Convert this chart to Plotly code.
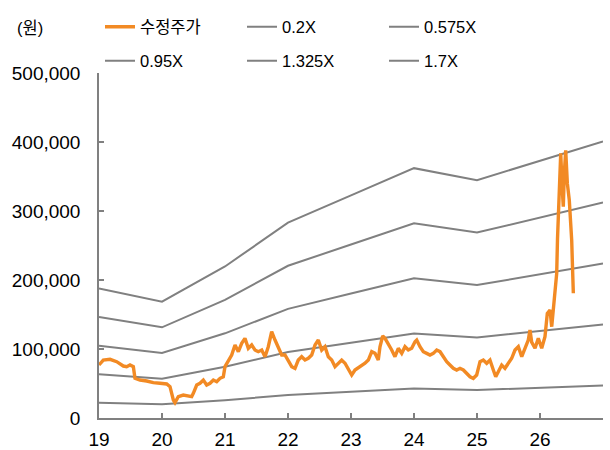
import plotly.graph_objects as go

# Band anchors (year-start points) and per-share book value
band_years = [2019, 2020, 2021, 2022, 2023, 2024, 2025, 2026, 2027]
bps = [110400, 99200, 129200, 166500, 189800, 213000, 202800, 219500, 235800]
multiples = [0.2, 0.575, 0.95, 1.325, 1.7]
band_names = ["0.2X", "0.575X", "0.95X", "1.325X", "1.7X"]

# Adjusted share price (decimal year, KRW)
price_x = [
    2019.000, 2019.068, 2019.175, 2019.281, 2019.386, 2019.439, 2019.492, 2019.545, 2019.571,
    2019.651, 2019.757, 2019.862, 2019.968, 2020.075, 2020.127, 2020.180, 2020.206, 2020.259,
    2020.338, 2020.418, 2020.471, 2020.497, 2020.551, 2020.603, 2020.656, 2020.709, 2020.762,
    2020.815, 2020.868, 2020.921, 2020.973, 2021.000, 2021.053, 2021.106, 2021.159, 2021.212,
    2021.265, 2021.317, 2021.370, 2021.424, 2021.476, 2021.529, 2021.583, 2021.635, 2021.687,
    2021.741, 2021.794, 2021.846, 2021.900, 2021.952, 2022.005, 2022.059, 2022.111, 2022.163,
    2022.217, 2022.270, 2022.322, 2022.376, 2022.429, 2022.481, 2022.535, 2022.587, 2022.640,
    2022.694, 2022.746, 2022.798, 2022.852, 2022.905, 2022.957, 2023.011, 2023.063, 2023.143,
    2023.222, 2023.275, 2023.329, 2023.381, 2023.433, 2023.460, 2023.503, 2023.540, 2023.592,
    2023.646, 2023.698, 2023.751, 2023.805, 2023.857, 2023.910, 2023.963, 2024.016, 2024.043,
    2024.095, 2024.148, 2024.202, 2024.254, 2024.306, 2024.360, 2024.413, 2024.465, 2024.519,
    2024.571, 2024.624, 2024.678, 2024.730, 2024.783, 2024.837, 2024.889, 2024.941, 2024.995,
    2025.048, 2025.100, 2025.154, 2025.206, 2025.259, 2025.297, 2025.338, 2025.392, 2025.444,
    2025.497, 2025.551, 2025.603, 2025.656, 2025.710, 2025.762, 2025.814, 2025.841, 2025.868,
    2025.921, 2025.973, 2026.027, 2026.079, 2026.116, 2026.159, 2026.186, 2026.211, 2026.238,
    2026.265, 2026.278, 2026.291, 2026.307, 2026.329, 2026.354, 2026.370, 2026.386, 2026.408,
    2026.434, 2026.465, 2026.487, 2026.503, 2026.519, 2026.529,
]
price_y = [
    76800, 84000, 85000, 81600, 75300, 74400, 76800, 74400, 57500,
    55000, 53600, 51200, 50300, 49300, 45400, 26100, 22200, 30900,
    33300, 31900, 30900, 35800, 47800, 50300, 55000, 47800, 50300,
    55000, 52600, 57500, 59800, 74400, 84000, 91300, 105800, 96100,
    108200, 115500, 101000, 105800, 98500, 96100, 98500, 88800, 103300,
    125000, 113000, 101000, 91300, 91300, 84000, 74400, 72000, 84000,
    88800, 84000, 86500, 91300, 105800, 113000, 98500, 103300, 88800,
    84000, 74400, 79300, 84000, 79300, 72000, 62300, 69600, 74400,
    79300, 84000, 96100, 93700, 84000, 103300, 118800, 115500, 108200,
    98500, 88800, 101000, 93700, 103300, 98500, 101000, 110600, 113000,
    103300, 96100, 93700, 91300, 93700, 98500, 96100, 88800, 81600,
    76800, 72000, 69600, 72000, 69600, 64800, 59800, 57500, 62300,
    81600, 84000, 79300, 84000, 69600, 59800, 67100, 76800, 72000,
    79300, 86500, 98500, 103300, 88800, 101000, 113000, 127500, 110000,
    101000, 115500, 101000, 117800, 151700, 156500, 132300, 161300, 180700,
    209700, 260000, 291700, 354600, 383500, 330400, 306200, 354600, 388000,
    340000, 315900, 282100, 257900, 209700, 180700,
]

x_tickvals = [2019, 2020, 2021, 2022, 2023, 2024, 2025, 2026]
x_ticktext = ["19", "20", "21", "22", "23", "24", "25", "26"]
y_tickvals = [0, 100000, 200000, 300000, 400000, 500000]

ORANGE = "#F28A24"
GRAY = "#808080"
FONT = "Liberation Sans, Arial, Noto Sans CJK KR, sans-serif"

fig = go.Figure()

for i, (m, name) in enumerate(zip(multiples, band_names)):
    fig.add_trace(go.Scatter(
        x=band_years, y=[b * m for b in bps], mode="lines", name=name,
        line=dict(color=GRAY, width=2),
        legend="legend" if i < 2 else "legend2",
        legendrank=i + 2,
    ))

fig.add_trace(go.Scatter(
    x=price_x, y=price_y, mode="lines", name="수정주가",
    line=dict(color=ORANGE, width=3.4),
    legend="legend", legendrank=1,
))

legend_common = dict(
    orientation="h", xref="container", yref="container",
    x=100 / 610, xanchor="left", yanchor="middle",
    entrywidth=97, entrywidthmode="pixels",
    font=dict(family=FONT, size=16.5, color="#000"),
    bgcolor="rgba(0,0,0,0)", itemwidth=30,
)

fig.update_layout(
    width=610, height=450,
    margin=dict(l=99, r=7, t=73, b=32, autoexpand=False),
    paper_bgcolor="white", plot_bgcolor="white",
    font=dict(family=FONT, size=16, color="#000"),
    legend=dict(legend_common, y=1 - 27 / 450),
    legend2=dict(legend_common, y=1 - 61 / 450),
    xaxis=dict(
        range=[2019, 2027], tickvals=x_tickvals, ticktext=x_ticktext,
        showline=True, linecolor=GRAY, linewidth=1.5,
        ticks="inside", ticklen=5, tickcolor=GRAY, tickwidth=1.5,
        showgrid=False, zeroline=False,
        tickfont=dict(family=FONT, size=19, color="#000"),
        ticklabelstandoff=3,
    ),
    yaxis=dict(
        range=[0, 500000], tickvals=y_tickvals, tickformat=",",
        showline=True, linecolor=GRAY, linewidth=1.5,
        ticks="inside", ticklen=5, tickcolor=GRAY, tickwidth=1.5,
        showgrid=False, zeroline=False,
        tickfont=dict(family=FONT, size=19, color="#000"),
        ticklabelstandoff=13,
    ),
    annotations=[dict(
        text="(원)", xref="paper", yref="paper",
        x=(15 - 99) / 504, xanchor="left", y=(418 - 28) / 345, yanchor="middle",
        showarrow=False, font=dict(family=FONT, size=16.5, color="#000"),
    )],
)

fig.write_html(
    "out.html",
    config={"displayModeBar": False},
    post_script="document.body.style.margin='0';document.body.style.overflow='hidden';",
)
